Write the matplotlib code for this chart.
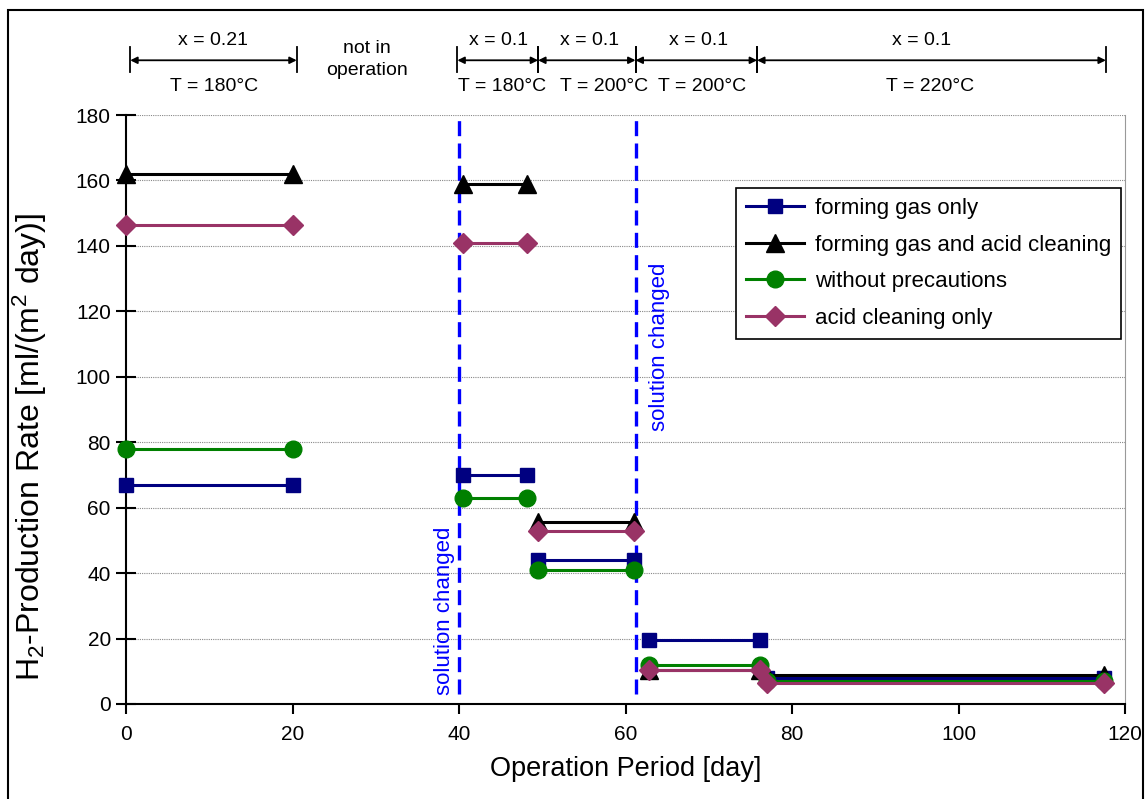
import matplotlib
matplotlib.use("Agg")
import matplotlib.pyplot as plt
from matplotlib.patches import Rectangle

plt.rcParams["font.family"] = ["Liberation Sans", "DejaVu Sans"]
plt.rcParams["mathtext.fontset"] = "custom"
plt.rcParams["mathtext.rm"] = "Liberation Sans"
plt.rcParams["mathtext.it"] = "Liberation Sans:italic"

# operation segments (days)
seg_start = [0, 40.5, 49.5, 62.8, 77]
seg_end = [20, 48.2, 61, 76.2, 117.5]

# H2 production rate per segment [ml/(m2 day)]
forming_gas_only = [67, 70, 44, 19.5, 8]
forming_gas_acid = [162, 159, 55.5, 10.5, 9]
without_precautions = [78, 63, 41, 12, 7]
acid_cleaning_only = [146.5, 141, 53, 10.5, 6.5]

labels = ["forming gas only", "forming gas and acid cleaning",
          "without precautions", "acid cleaning only"]

# periods shown above the plot
period_from = [0.5, 39.8, 49.5, 61.2, 75.8]
period_to = [20.5, 49.5, 61.2, 75.8, 117.7]
period_x = ["x = 0.21", "x = 0.1", "x = 0.1", "x = 0.1", "x = 0.1"]
period_T = ["T = 180°C", "T = 180°C", "T = 200°C", "T = 200°C", "T = 220°C"]
x_label_pos = [10.5, 44.7, 55.7, 68.8, 95.6]
T_label_pos = [10.6, 45.2, 57.4, 69.2, 96.6]

solution_changed = [40, 61.3]

fig = plt.figure(figsize=(11.48, 7.99), dpi=100)
ax = fig.add_axes([0.1098, 0.1189, 0.8702, 0.7371])

styles = [
    (forming_gas_only, "#000080", "s", 10.5),
    (forming_gas_acid, "black", "^", 12.5),
    (without_precautions, "#008000", "o", 12),
    (acid_cleaning_only, "#993366", "D", 10),
]

for (vals, col, mk, ms), lab in zip(styles, labels):
    for i in range(len(seg_start)):
        ax.plot([seg_start[i], seg_end[i]], [vals[i], vals[i]], color=col,
                marker=mk, markersize=ms, lw=2.2, clip_on=False, zorder=4,
                label=lab if i == 0 else None)

for d in solution_changed:
    ax.plot([d, d], [3, 180], color="#0000FF", lw=2.4,
            ls=(0, (4.5, 2.2)), zorder=3)
ax.text(38.3, 2.8, "solution changed", rotation=90, color="#0000FF",
        fontsize=16, ha="center", va="bottom")
ax.text(64.1, 135, "solution changed", rotation=90, color="#0000FF",
        fontsize=16, ha="center", va="top")

trans = ax.get_xaxis_transform()
for a, b in zip(period_from, period_to):
    ax.annotate("", xy=(b, 1.093), xytext=(a, 1.093), xycoords=trans,
                textcoords=trans, annotation_clip=False,
                arrowprops=dict(arrowstyle="<|-|>", color="black", lw=1.3,
                                mutation_scale=10, shrinkA=0, shrinkB=0))
    for e in (a, b):
        ax.plot([e, e], [1.073, 1.115], transform=trans, color="black",
                lw=1.3, clip_on=False)
for xp, xt in zip(x_label_pos, period_x):
    ax.text(xp, 1.127, xt, transform=trans, ha="center", va="center",
            fontsize=14)
for xp, tt in zip(T_label_pos, period_T):
    ax.text(xp, 1.048, tt, transform=trans, ha="center", va="center",
            fontsize=14)
ax.text(28.9, 1.095, "not in\noperation", transform=trans, ha="center",
        va="center", fontsize=14, linespacing=1.4)

ax.set_xlim(0, 120)
ax.set_ylim(0, 180)
ax.set_xticks(range(0, 121, 20))
ax.set_yticks(range(0, 181, 20))
ax.tick_params(axis="x", direction="out", length=7, width=1.5, pad=8,
               labelsize=15)
ax.tick_params(axis="y", direction="inout", length=14, width=1.5, pad=4,
               labelsize=15)
ax.yaxis.grid(True, color="#888888", ls=(0, (1, 1)), lw=0.8)
ax.set_axisbelow(True)
for s in ("left", "bottom"):
    ax.spines[s].set_linewidth(1.5)
ax.spines["top"].set_visible(False)
ax.spines["right"].set_color("#999999")

ax.set_xlabel("Operation Period [day]", fontsize=19.5, labelpad=9)
ax.set_ylabel(r"H$_2$-Production Rate [ml/(m$^2$ day)]", fontsize=23)
ax.yaxis.set_label_coords(-0.077, 0.436)

leg = ax.legend(loc="upper right", bbox_to_anchor=(0.996, 0.876),
                fontsize=16, frameon=True, fancybox=False, framealpha=1,
                edgecolor="black", handlelength=2.6, labelspacing=0.7,
                borderpad=0.45, handletextpad=0.5, borderaxespad=0)
leg.get_frame().set_linewidth(1.2)

fig.patches.append(Rectangle((0.007, -0.05), 0.989, 1.037,
                             transform=fig.transFigure, fill=False,
                             edgecolor="black", lw=1.5))

fig.savefig("out.png", dpi=100)
